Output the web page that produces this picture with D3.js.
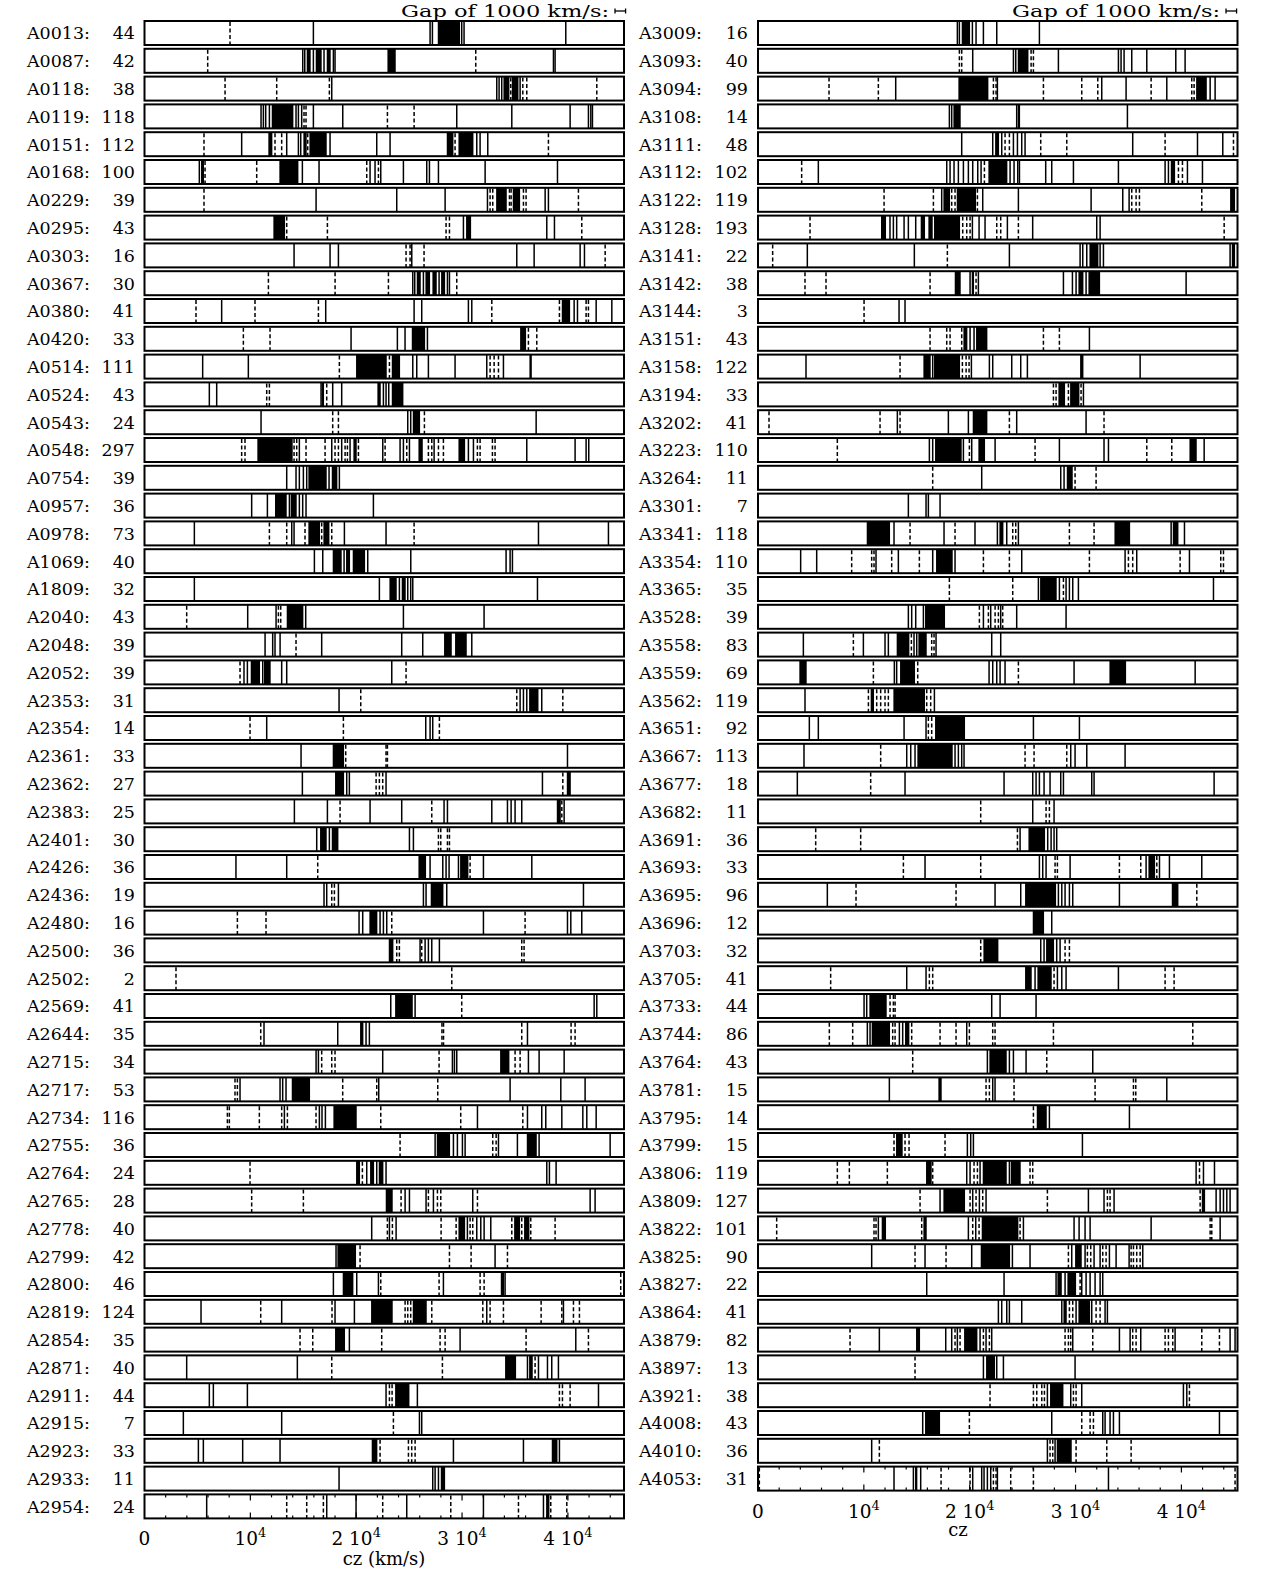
<!DOCTYPE html>
<html><head><meta charset="utf-8">
<script src="https://cdn.jsdelivr.net/npm/d3@7"></script>
<style>body{margin:0;background:#fff}svg{display:block}text{font-family:"DejaVu Serif",serif;fill:#000}</style>
</head><body><svg id="c" width="1280" height="1575"></svg>
<script>
// ---------- data (cz in km/s) ----------
const leftNames=["A0013","A0087","A0118","A0119","A0151","A0168","A0229","A0295","A0303","A0367","A0380","A0420","A0514","A0524","A0543","A0548","A0754","A0957","A0978","A1069","A1809","A2040","A2048","A2052","A2353","A2354","A2361","A2362","A2383","A2401","A2426","A2436","A2480","A2500","A2502","A2569","A2644","A2715","A2717","A2734","A2755","A2764","A2765","A2778","A2799","A2800","A2819","A2854","A2871","A2911","A2915","A2923","A2933","A2954"];
const leftCounts=[44,42,38,118,112,100,39,43,16,30,41,33,111,43,24,297,39,36,73,40,32,43,39,39,31,14,33,27,25,30,36,19,16,36,2,41,35,34,53,116,36,24,28,40,42,46,124,35,40,44,7,33,11,24];
const leftSolid=[
[15955,26980,27200,29970,30190,39800],
[14950,15140,15955,16960,17845,18000,38635,38790],
[17690,33280,33500,33750,35485],
[11010,11230,11450,11800,14315,14540,14850,15955,18730,29500,34700,40210,41940,42165,42320],
[9180,13435,14540,14760,17530,21940,23200,31390,31705,32430],
[5180,14915,16490,21310,21780,22320,24460,26665,26920,27770,32180,39015],
[16210,23830,28400,32400,37850,38160],
[30130,38005,38730],
[14130,17530,18320,25250,35170,36810,41155,41565],
[25345,25530,26350,27830,28620,28810],
[7290,17120,25470,26190,30600,30920,40590,40905,42670,44150],
[19515,23890,24615,26730],
[5495,9810,25345,25720,26820,29340,32335,33910],
[6125,6820,16680,17780,18630,22570,22820,23075],
[11010,24870,25150,37000],
[14630,17690,18630,19420,22510,24145,24460,25030,27360,30600,31075,36115,40680,41720,41970],
[13435,14315,14630,15010,15325,17435,18410],
[10125,11610,13690,14630,14945,15260,21625],
[4710,13910,14130,18885,22820,37220,43830],
[16050,16840,18855,21090,25155,34160,34540,34760],
[4710,22190,24080,24870,25150,25345,37125],
[9750,12430,15230,24460,32080],
[11390,12110,12330,12810,16740,24300,26285,30920],
[9400,9720,11170,12960,13435,23360],
[18380,35485,35800,36115,37530],
[11545,26570,26980,27230],
[14790,39960],
[14915,19105,19355,22820,37595],
[14160,17280,21310,24300,28300,28620,32810,34290,34635,35010,35640,39645],
[16270,17465,25030,25405],
[8640,13435,26980,28180,28490,28775,29660,32020,36590],
[16960,17215,18320,26350,26600,28555,41470],
[20270,20615,22255,22570,22885,32020,39960,40275,41310],
[26035,26510,26820,27140,27860],
[],
[23265,25565,42480,42730],
[11290,18255,20930,21245,36180],
[16210,16430,22505,29090,29280,29500,36270,37280,39645],
[9025,12805,13055,13370,22130,34540,39330,41625],
[13215,16520,16770,17090,31455,36180,37530,37910,39425,41410,41785,42670],
[27455,29185,29560,30035,30290,33440,35230,37280,43990],
[20995,21940,22820,38005,38255,38885],
[24620,25030,26600,27295,31010,42100,42570],
[21465,23140,23770,30505,31390,31770,32085,32715],
[18095,33120],
[17845,20050,22100,28240,34065],
[5340,12960,18000,19830,32335,39580],
[19355,29815,40745],
[3985,14440,36180,37220,38070,38475,39105],
[6125,6505,9720,22820,25780,42890],
[3670,12960,25975,26190],
[5090,5560,9275,12805,29185,35800,39200],
[18380,27230,27455,27770],
[5875,17215,19985,24775,32020,37690]];
const leftDashed=[
[8080],
[5970,31295],
[7610,12490,17465,34600,35740,36115,42730],
[15070,15260,22950,25470],
[5620,12330,12960,15420,29340,38160],
[5720,10600,20995,22100],
[5620,32650,32900,34480,34635,35800,36050,40995],
[13435,17280,28490,28810,41310],
[24710,25090,26410,43520],
[11705,18005,23045,29500],
[4865,10440,16430,32810,39200,41720,41940],
[9340,11860,36270,37060],
[18410,23140,32650,33030,33440],
[11545,11800,17215],
[17780,18320,26445],
[9180,9495,14130,14380,15260,17060,18000,18320,18950,19170,20210,22730,24775,26820,27140,27770,28240,31450,31705,32870,33120],
[],
[],
[11800,13435,15165,16740,17690,25470],
[],
[],
[3985,12650,12870],
[14315],
[9025,24710],
[20430,35170,39520],
[9970,18790,27860],
[19010,22820,22950],
[21880,22190,22505,39520],
[18475,27140,39425],
[27770,27990,28620,28810],
[16365,30760],
[17690,17940],
[8775,11480,23360,35955],
[23830,24080,26190,35640,35860],
[2975,29030],
[29970],
[10980,28100,28250,35640,40300,40680],
[16740,17690,18000,27830,35010,35485],
[8550,8775,18725,21940,27705],
[7830,8015,10850,12960,13500,16205,22320,29875,35740],
[24145,32900,33220],
[9970,20585],
[10125,15010,24240,26820,27675,27990,31455],
[22945,23420,28020,29440,30760,31010,34700,35640,36490,38790],
[20365,28810,30855,34290],
[22320,27830,31705,32085,44990],
[10980,17715,24620,24870,25150,27140,31960,32650,33910,37470,39425,40525,41090],
[14695,15895,22410,27925,28400,36050,41940],
[17690,28145,36900],
[23140,23390,39200,39485,40210],
[23515],
[22255,24935,25245,25565],
[],
[13435,15325,16900,22505,28935,35330,38380,39895]];
const leftBands=[
[[27705,29815]],
[[15325,15700],[16175,16740],[17215,17590],[22950,23735]],
[[33910,34475],[34700,35330]],
[[12020,14065]],
[[11700,12080],[15010,15325],[15580,17215],[28555,29185],[29660,31075]],
[[5340,5620],[12740,14540]],
[[33220,34225],[34790,35485]],
[[12175,13280],[30380,30855]],
[],
[[25720,26100],[26540,26980],[27200,27610],[28020,28400]],
[[39420,40210]],
[[25250,26510],[35485,36050]],
[[19985,22885],[23360,24145],[36365,36590]],
[[16740,16960],[22000,22320],[23360,24460]],
[[25345,26035]],
[[10660,14000],[19735,20050],[25880,26290],[29660,30290]],
[[15480,17215],[17690,18220]],
[[12330,13435],[13810,14380]],
[[15480,16585],[16900,17470]],
[[17780,18630],[19040,19420],[19670,20840]],
[[23140,23830],[24300,24680]],
[[13435,15010]],
[[28300,29030],[29340,30445]],
[[10035,10915],[11290,11920]],
[[36335,37220]],
[],
[[17780,18855]],
[[18000,18855],[39895,40275]],
[[38950,39330]],
[[16585,17215],[17690,18320]],
[[25880,26600],[29815,30600]],
[[27040,28240]],
[[21245,22000]],
[[23075,23515]],
[],
[[23675,25345]],
[[20365,20680]],
[[33595,34475]],
[[13910,15640]],
[[17845,20050]],
[[27610,28870],[36115,37060]],
[[19985,20365],[21310,21690],[22130,22570]],
[[22790,23450]],
[[29660,30290],[34920,35485],[35860,36365]],
[[18220,19985]],
[[18725,19735],[33660,33975]],
[[21405,23450],[25345,26665]],
[[18000,18945]],
[[34065,35105],[36335,36680]],
[[23675,25030]],
[],
[[21465,22000],[38475,39015]],
[[27990,28400]],
[[37940,38255]]];

const rightNames=["A3009","A3093","A3094","A3108","A3111","A3112","A3122","A3128","A3141","A3142","A3144","A3151","A3158","A3194","A3202","A3223","A3264","A3301","A3341","A3354","A3365","A3528","A3558","A3559","A3562","A3651","A3667","A3677","A3682","A3691","A3693","A3695","A3696","A3703","A3705","A3733","A3744","A3764","A3781","A3795","A3799","A3806","A3809","A3822","A3825","A3827","A3864","A3879","A3897","A3921","A4008","A4010","A4053"];
const rightCounts=[16,40,99,14,48,102,119,193,22,38,3,43,122,33,41,110,11,7,118,110,35,39,83,69,119,92,113,18,11,36,33,96,12,32,41,44,86,43,15,14,15,119,127,101,90,22,41,82,13,38,43,36,31];
const rightSolid=[
[18835,19025,20255,20600,21295,22555,26585],
[20285,24130,24350,28380,34050,34300,34585,35310,36730,39470,40350],
[13010,22615,32475,34775,38620,42715,43185],
[18080,18300,24440,34900],
[19245,22175,23025,24130,24510,24915,25230,35400,41520,43910],
[5700,17830,18145,18520,18930,19405,19875,20285,20760,21075,23815,24190,24540,24700,27180,27750,29800,34050,38460,38775,40570,41990],
[17355,21230,24600,31470,34460,35060],
[12470,12790,13100,13800,14205,14900,20255,20885,21450,23560,25950,32000,32320],
[4660,14770,23750,30430,30680,31060,32320,32635,44600],
[20035,20820,28855,29705,30050,30995,40445],
[13325,13890],
[20035,20410,31310],
[4535,16505,20160,21860,22175,23970,24820,25450,36100],
[30745],
[13165,17985,19875,24440,30995],
[16190,16505,19405,20190,22400,28475,32690,33110,42150],
[21135,28600,28915],
[14205,15875,16095,17200],
[12850,17575,20500,22615,23500,24600,39030,40290],
[4030,5545,11150,13260,16505,18615,24915,34680,35780,40760],
[26490,28475,29105,29420,29735,30270,43030],
[14205,14520,14900,15625,21295,21985,22930,24440,29105],
[4285,9955,12000,12315,14740,14995,16820,22080,22930],
[12880,13100,21830,22175,22555,22870,23340,29860,41300],
[4440,16665],
[4850,5700,13800,15875,26020,30365],
[4345,14050,14430,14835,18615,18930,19245,19465,29545,29955,31060,34680],
[3715,13890,23245,25955,26270,26585,27025,27590,28600,28855,31530,31750,43090],
[25955,27970],
[24760,27370,27690,27970,28220],
[15780,26585,26900,27215,29485,36665,37930,38870,41925],
[6550,22395,24820,28380,28700,29010,29420,29735,34145],
[27750],
[26710,27025,28220,28540],
[14050,15875,26175,28285,28700,29105,34050],
[10020,10270,22080,22870,26270],
[10330,10585,13355,13670,19720],
[21670,23750,24130,25325,31625],
[12410,22175,22395,38620],
[27530,35090],
[19780,20095,20350,30650],
[19720,20035,20980,23750,41390,42085,43125],
[17200,20285,20915,21545,31215,32690,33640,43280,43660,43975,44290,44600],
[11370,19875,20570,25075,29860,30335,30900,31375,37140,43660],
[10740,15780,20190,24035,25700,29640,30900,31750,32320,33200,33830,35060,36350],
[15940,23245,28160,29010,30585,30995,31375,31845,32320,32570],
[22710,23025,23500,23750,24915,28700,30050,31530,32790,33010],
[11465,17735,18300,18835,20980,21545,22080,29735,34145,35155,36160,39405,44600,45070],
[21295,22555,23185,29955],
[27340,29545,30585,40190,40510],
[15560,27750,32570,32790,33260,33580,34145,43595],
[10740,27340,28065],
[12850,14680,15370,20285,21135,21355,21670,21985,22615,33110]];
const rightDashed=[
[],
[19025,19245,25800,26020],
[6710,11370,22240,22490,26965,30585,32100,37140,40980,41200],
[],
[23340,23750,26710,29170,38460,44920],
[4125,21390,39720,40100],
[11910,16570,18300,18615,20730,35310,35720,36035,41925],
[4915,19340,19720,20035,22555,22930,24600,44040],
[1385,17890],
[4440,6425,16255,20600],
[10020],
[16255,17830,18145,19245,26965,28475],
[13420,19310,19660,19940],
[27910,28160,29325,30520],
[1040,11530,13420,23750,32690],
[7495,19970,26175,36730,39090],
[16505,29955,31940],
[],
[14365,18615,24065,24350,29420,31750],
[8850,10740,10960,12630,15245,21295,23750,31310,34995,35400,39880,43720,43975],
[18080,24065,28855],
[20915,21765,22400,22710,23120],
[9010,14490,16410,16630],
[10900,15090,24600],
[10430,11215,11590,12000,12315,15940,16315],
[16095,16410],
[11590,25230,26080,29170],
[10645],
[21040,27215,27530],
[5450,9700,24510],
[13735,21040,28065,28285,34145,36160,37675],
[9260,18710,41455],
[],
[21040,29010,29420],
[6865,16190,16505,27970,38460,39310],
[12475,12790,12950],
[6740,8945,12725,12950,14520,17200,18710,19970,22175,22395,27910,41075],
[14615,27280],
[21545,21860,24190,31845,35470,35690],
[26020],
[12850,13890,14270,17670],
[7495,8630,12220,16505,20410,20730,25700,25955,41710],
[15310,20035,20600,21230,27340,33010,33260,41770],
[1765,10960,11150,15465,20285,20885,24760,42715,42870],
[14835,17765,29325,31120,31435,32570,32885,35250,35470,35780,36100],
[30430],
[29420,29735,31940,32320],
[8695,18615,19090,21295,21860,29010,29325,29545,31625,35400,35720,38460,38775,39185,41925,43595],
[14835],
[21920,26020,26335,26810,27060,29800,30050,40760],
[19970,30585,31375,31690],
[11465,27590,27845,30050,32950,35250],
[125,17295,20035,22240,22490,23875,26020,45070]];
const rightBands=[
[[19245,20035]],
[[24540,25550]],
[[18930,21765],[41390,42400]],
[[18460,19150],[24540,24760]],
[[22400,22775]],
[[21765,23560],[38995,39405]],
[[17515,18145],[18775,20600],[44600,45070]],
[[11620,12095],[15370,15780],[16095,16505],[16630,19090]],
[[31310,32160],[44760,45070]],
[[18585,19150],[20190,20410],[30270,30745],[31215,32320]],
[],
[[19405,19780],[20600,21670]],
[[15625,16315],[16630,19090],[30430,30745]],
[[28380,29010],[29485,30365]],
[[20285,21670]],
[[16725,19245],[20820,21450],[40760,41450]],
[[29170,29735]],
[],
[[10270,12475],[22805,23185],[33675,35155],[39185,39720]],
[[16820,18395]],
[[26650,28220]],
[[15780,17670]],
[[13100,14300],[15150,15940]],
[[3905,4600],[13420,14835],[33200,34775]],
[[10645,10960],[12790,15780]],
[[16725,19560]],
[[15055,18395]],
[],
[],
[[25550,27120]],
[[36885,37515]],
[[25230,28160],[39090,39720]],
[[25955,27025]],
[[21295,22710],[27215,27970]],
[[25230,25860],[26395,27750]],
[[10520,12160]],
[[10740,12475],[13890,14300]],
[[21860,23500]],
[[17040,17355]],
[[26335,27280]],
[[13040,13670]],
[[15875,16410],[21230,23500],[23880,24820]],
[[17515,19560],[41925,42240]],
[[11685,12095],[15625,15940],[21135,24600]],
[[21040,23815],[29955,30585]],
[[28285,28700],[29230,30050]],
[[28855,29170],[30270,31375]],
[[14930,15310],[19470,20730]],
[[21545,22395]],
[[27590,28855]],
[[15780,17200]],
[[28220,29640]],
[[14835,15055]]];

const tickValues=[0,10000,20000,30000,40000];
const tickMain=["0","10","2 10","3 10","4 10"];
const tickSup=["","4","4","4","4"];
const headerText="Gap of 1000 km/s:";
const gapWidth=1000;

// ---------- drawing ----------
const svg=d3.select("#c");
svg.append("rect").attr("width",1280).attr("height",1575).attr("fill","#fff");
const ROW0=21, PITCH=27.8, BOXH=24;

function panel(o){
  const x=d3.scaleLinear().domain([0,45300]).range(o.range);
  const g=svg.append("g");
  o.names.forEach((nm,i)=>{
    const y0=ROW0+i*PITCH;
    const r=g.append("g");
    r.append("text").attr("x",o.nameX).attr("y",y0+18.4).attr("font-size",17.5)
      .attr("textLength",63).attr("lengthAdjust","spacingAndGlyphs").text(nm+":");
    r.append("text").attr("x",o.countX).attr("y",y0+18.4).attr("font-size",17.5)
      .attr("text-anchor","end").text(o.counts[i]);
    r.selectAll("rect.b").data(o.bands[i]).join("rect").attr("class","b")
      .attr("x",d=>x(d[0])).attr("width",d=>Math.max(1,x(d[1])-x(d[0])))
      .attr("y",y0).attr("height",BOXH).attr("fill","#000");
    r.selectAll("line.s").data(o.solid[i]).join("line").attr("class","s")
      .attr("x1",d=>x(d)).attr("x2",d=>x(d)).attr("y1",y0).attr("y2",y0+BOXH)
      .attr("stroke","#000").attr("stroke-width",1.5);
    r.selectAll("line.d").data(o.dashed[i]).join("line").attr("class","d")
      .attr("x1",d=>x(d)).attr("x2",d=>x(d)).attr("y1",y0+1).attr("y2",y0+BOXH)
      .attr("stroke","#000").attr("stroke-width",1.5).attr("stroke-dasharray","4,2.5");
    r.append("rect").attr("x",x(0)).attr("y",y0).attr("width",x(45300)-x(0)).attr("height",BOXH)
      .attr("fill","none").attr("stroke","#000").attr("stroke-width",2);
  });
  // ticks on last row
  const last=o.names.length-1, yt=ROW0+last*PITCH, yb=yt+BOXH;
  const tv=d3.range(2000,45000,2000);
  g.selectAll("line.tt").data(tv).join("line").attr("x1",d=>x(d)).attr("x2",d=>x(d))
    .attr("y1",yt).attr("y2",d=>yt+(d%10000===0?6:3)).attr("stroke","#000").attr("stroke-width",1.2);
  g.selectAll("line.tb").data(tv).join("line").attr("x1",d=>x(d)).attr("x2",d=>x(d))
    .attr("y1",yb).attr("y2",d=>yb-(d%10000===0?6:3)).attr("stroke","#000").attr("stroke-width",1.2);
  // tick labels
  tickValues.forEach((v,k)=>{
    const t=g.append("text").attr("x",x(v)).attr("y",yb+27).attr("font-size",18.5).attr("text-anchor","middle");
    t.append("tspan").text(tickMain[k]);
    if(tickSup[k]) t.append("tspan").attr("dy",-8).attr("font-size",13).text(tickSup[k]);
  });
  g.append("text").attr("x",o.titleX).attr("y",yb+o.titleDy).attr("font-size",18).attr("text-anchor","middle").text(o.title);
  // header
  g.append("text").attr("x",o.headX).attr("y",17).attr("font-size",16.5).attr("text-anchor","end")
    .attr("textLength",208).attr("lengthAdjust","spacingAndGlyphs").text(headerText);
  const hx=o.headX+6, hy=11, w=x(gapWidth)-x(0);
  g.append("line").attr("x1",hx).attr("x2",hx+w).attr("y1",hy).attr("y2",hy).attr("stroke","#000").attr("stroke-width",1.3);
  g.append("line").attr("x1",hx).attr("x2",hx).attr("y1",hy-2.5).attr("y2",hy+2.5).attr("stroke","#000").attr("stroke-width",1.3);
  g.append("line").attr("x1",hx+w).attr("x2",hx+w).attr("y1",hy-2.5).attr("y2",hy+2.5).attr("stroke","#000").attr("stroke-width",1.3);
}
panel({names:leftNames,counts:leftCounts,solid:leftSolid,dashed:leftDashed,bands:leftBands,
  range:[144.5,624],nameX:27,countX:135,title:"cz (km/s)",titleX:384,titleDy:47,headX:609});
panel({names:rightNames,counts:rightCounts,solid:rightSolid,dashed:rightDashed,bands:rightBands,
  range:[758,1237.5],nameX:639,countX:748,title:"cz",titleX:958,titleDy:45,headX:1220});
</script></body></html>
